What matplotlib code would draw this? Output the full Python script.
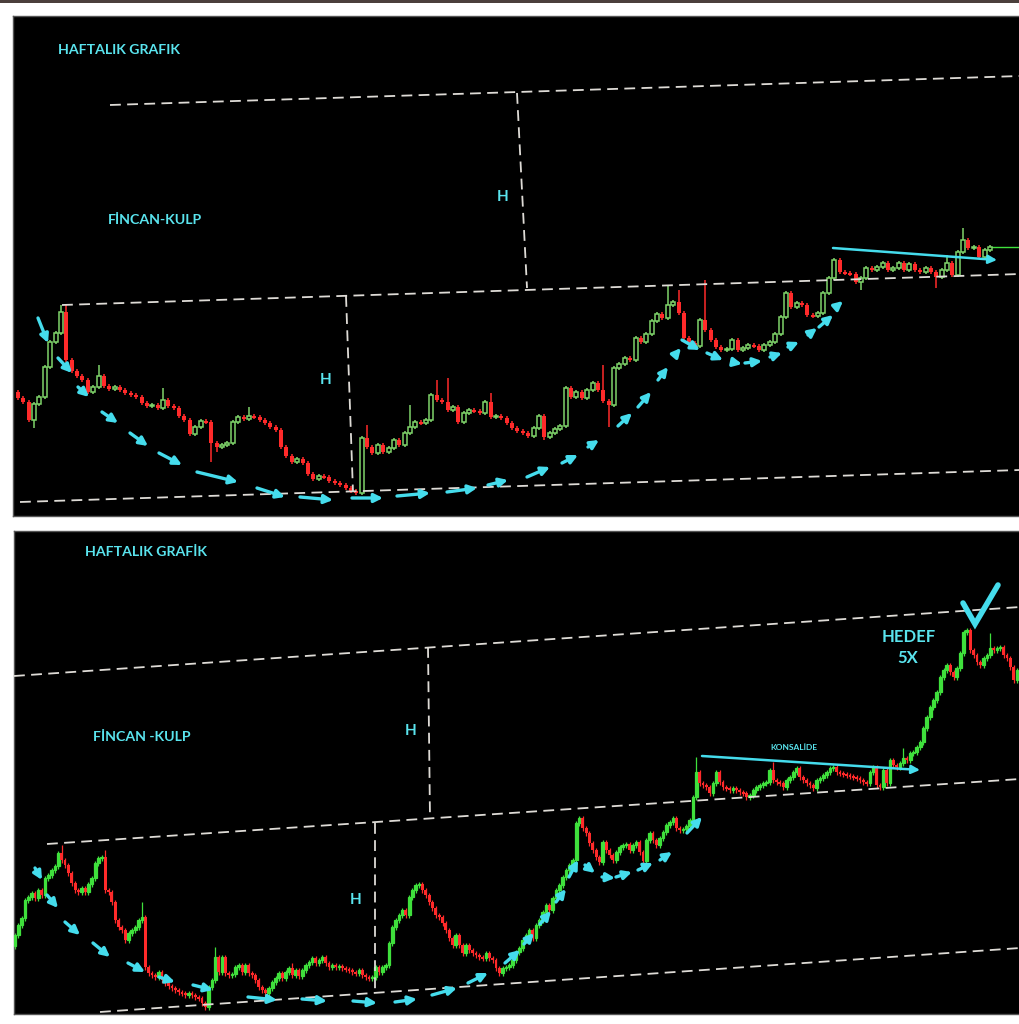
import numpy as np
import matplotlib
matplotlib.use("Agg")
import matplotlib.pyplot as plt
from matplotlib.patches import Rectangle

# ---------------- data ----------------
# levels are chart pixel rows (smaller = higher price); each bar opens at the previous close
top_first_open = 392
top_close = [398, 402, 420, 404, 397, 367, 342, 333, 312, 360,
             371, 376, 380, 392, 387, 376, 386, 389, 387, 390,
             393, 395, 397, 403, 406, 405, 408, 400, 406, 408,
             416, 420, 434, 427, 421, 422, 443, 447, 445, 443,
             422, 417, 419, 416, 417, 420, 423, 427, 430, 447,
             456, 462, 459, 463, 474, 479, 476, 477, 481, 483,
             485, 488, 491, 493, 438, 447, 453, 445, 452, 448,
             440, 445, 433, 427, 422, 423, 420, 395, 400, 402,
             410, 407, 422, 413, 410, 411, 413, 402, 417, 416,
             418, 423, 428, 431, 433, 436, 428, 416, 437, 433,
             429, 426, 388, 397, 392, 398, 390, 383, 390, 401,
             405, 368, 364, 358, 360, 338, 342, 334, 321, 314,
             318, 305, 302, 313, 338, 343, 346, 320, 330, 340,
             347, 350, 349, 340, 350, 348, 345, 346, 350, 345,
             342, 334, 317, 293, 307, 303, 305, 315, 316, 313,
             293, 278, 260, 272, 273, 274, 282, 278, 268, 270,
             267, 263, 270, 268, 263, 270, 264, 270, 272, 268,
             272, 277, 270, 263, 275, 252, 240, 248, 247, 257,
             250, 247]
top_high_idx = [8, 9, 15, 27, 43, 65, 73, 78, 80, 88, 109, 121, 123, 128, 173, 176]
top_high = [305, 305, 365, 388, 407, 425, 405, 380, 378, 393, 365, 285, 290, 280, 255, 228]
top_low_idx = [3, 36, 37, 64, 98, 110, 157, 171]
top_low = [428, 462, 452, 495, 440, 427, 290, 288]

bot_first_open = 946
bot_close = [935, 925, 918, 900, 897, 893, 898, 890, 895, 878,
             875, 870, 866, 853, 860, 865, 873, 883, 890, 892,
             888, 892, 884, 878, 863, 858, 857, 890, 892, 902,
             920, 927, 930, 940, 933, 930, 927, 920, 917, 967,
             973, 975, 977, 972, 980, 983, 986, 988, 990, 992,
             993, 995, 993, 995, 997, 998, 1003, 1007, 987, 980,
             957, 972, 957, 973, 975, 974, 967, 965, 972, 965,
             973, 975, 980, 987, 990, 993, 988, 982, 978, 973,
             978, 972, 968, 975, 970, 976, 970, 965, 962, 958,
             963, 960, 957, 963, 967, 965, 967, 966, 968, 969,
             970, 972, 973, 970, 975, 977, 978, 977, 967, 972,
             967, 965, 943, 927, 920, 915, 910, 915, 897, 890,
             885, 884, 890, 895, 902, 908, 915, 917, 923, 930,
             938, 945, 935, 945, 953, 945, 950, 953, 955, 957,
             958, 953, 958, 960, 968, 973, 968, 967, 965, 960,
             952, 948, 940, 935, 930, 938, 925, 920, 912, 905,
             910, 898, 890, 885,
             877, 870, 865, 860, 823, 818, 828, 833, 843, 850,
             857, 862, 842, 850, 855, 860, 852, 847, 845, 844,
             850, 845, 842, 852, 861, 840, 833, 840, 845, 838,
             832, 825, 822, 818, 828, 830, 829, 826, 820, 797,
             772, 783, 785, 787, 793, 783, 772, 782, 787, 788,
             790, 788, 790, 792, 793, 797, 795, 790, 787, 785,
             783, 782, 770, 780, 782, 783, 787, 780, 777, 772,
             768, 777, 780, 783, 785, 788, 780, 778, 775, 772,
             768, 767, 772, 773, 774, 775, 776, 777, 778, 780,
             782, 783, 772, 767, 785, 787, 770, 783, 760, 765,
             767, 763, 758, 760, 753, 752, 747, 742, 728, 717,
             707, 700, 692, 677, 670, 665, 672, 677, 668, 653,
             632, 630, 650, 655, 662, 665, 658, 655, 648, 650,
             648, 647, 655, 658, 667, 680, 670]
bot_high_idx = [14, 27, 38, 60, 83, 93, 204, 227, 266, 285, 292]
bot_high = [845, 850, 902, 947, 963, 955, 757, 762, 748, 628, 633]
bot_low_idx = [57]
bot_low = [1010]

# dashed channel lines and "H" height markers (chart pixel coords)
top_dashes = [((110, 105), (1020, 76)), ((62, 305), (1020, 274)), ((20, 502), (1020, 470)),
              ((517, 93), (527, 288)), ((346, 296), (353, 492))]
bot_dashes = [((14, 676), (1020, 607)), ((47, 844), (1020, 779)), ((100, 1012), (1020, 948)),
              ((428, 647), (430, 818)), ((375, 823), (375, 990))]

# cup and handle arrows
top_arrows = [((38, 318), (48, 343)), ((58, 358), (72, 373)), ((78, 387), (89, 397)),
              ((102, 412), (118, 423)), ((130, 433), (148, 446)), ((159, 453), (182, 465)),
              ((197, 472), (238, 482)), ((257, 488), (285, 497)), ((300, 497), (333, 500)),
              ((352, 498), (383, 498)), ((397, 496), (430, 493)), ((447, 492), (477, 488)),
              ((488, 485), (508, 480)), ((527, 477), (550, 467)), ((562, 463), (578, 455)),
              ((588, 447), (599, 440)), ((618, 426), (632, 413)), ((638, 407), (651, 392)),
              ((658, 380), (668, 367)), ((675, 355), (681, 348)),
              ((682, 340), (700, 350)), ((707, 353), (723, 360)), ((732, 362), (742, 364)),
              ((745, 363), (762, 361)), ((770, 357), (782, 353)), ((788, 347), (799, 342)),
              ((808, 335), (817, 328)), ((819, 327), (833, 315)), ((836, 307), (843, 301))]
bot_arrows = [((35, 868), (42, 880)), ((47, 895), (58, 908)), ((65, 922), (80, 935)),
              ((93, 943), (110, 957)), ((128, 963), (145, 972)), ((159, 977), (175, 982)),
              ((193, 985), (213, 990)), ((248, 997), (277, 1000)), ((302, 999), (327, 1001)),
              ((353, 1001), (377, 1003)), ((395, 1002), (417, 999)), ((432, 995), (457, 988)),
              ((468, 983), (488, 973)), ((505, 963), (520, 950)), ((524, 944), (534, 933)),
              ((540, 924), (551, 911)), ((556, 902), (566, 889)), ((569, 877), (578, 860)),
              ((585, 865), (595, 873)), ((602, 877), (615, 878)), ((616, 877), (632, 872)),
              ((638, 870), (653, 863)), ((660, 860), (672, 852)), ((687, 833), (702, 817))]

top_trend = ((833, 248), (997, 260))
bot_trend = ((702, 756), (920, 770))
check_mark = ([963, 975, 998], [603, 624, 585])

# ---------------- drawing ----------------
W, H = 1020, 1024
CYAN = '#45dcec'
TXT = '#5ae4ee'
RED = '#ff2a2a'
GREEN = '#3fe03c'
HOLLOW = '#7fd46a'
DASH = '#dedbd6'
FONT = ['Lato', 'DejaVu Sans']

fig = plt.figure(figsize=(W / 100, H / 100), dpi=100, facecolor='white')
fig.add_artist(Rectangle((0, 1 - 3 / H), 1, 3 / H, transform=fig.transFigure,
                         color='#4b3f3c', lw=0))

ax1 = fig.add_axes([13 / W, 1 - 516 / H, (W - 13) / W, 500 / H])
ax1.set_xlim(13, 1020)
ax1.set_ylim(516, 16)
ax2 = fig.add_axes([14 / W, 1 - 1014 / H, (W - 14) / W, 483 / H])
ax2.set_xlim(14, 1020)
ax2.set_ylim(1014, 531)
for ax in (ax1, ax2):
    ax.set_facecolor('black')
    ax.set_xticks([])
    ax.set_yticks([])
    for s in ax.spines.values():
        s.set_color('#555555')
        s.set_linewidth(1)


def draw_candles(ax, x0, dx, first_open, close, hi_idx, hi, lo_idx, lo,
                 width, wick, lw, up_face, up_edge):
    c = np.array(close, float)
    o = np.r_[first_open, c[:-1]]
    x = x0 + dx * np.arange(len(c))
    top = np.minimum(o, c) - wick
    bot = np.maximum(o, c) + wick
    top[hi_idx] = hi
    bot[lo_idx] = lo
    up = c < o
    ax.vlines(x[up], top[up], bot[up], color=up_edge, lw=lw, zorder=2)
    ax.vlines(x[~up], top[~up], bot[~up], color=RED, lw=lw, zorder=2)
    h = c - o
    h = np.where(np.abs(h) < 1.5, np.where(up, -1.5, 1.5), h)
    ax.bar(x[up], h[up], bottom=o[up], width=width, facecolor=up_face,
           edgecolor=up_edge, lw=lw, zorder=3)
    ax.bar(x[~up], h[~up], bottom=o[~up], width=width, color=RED, lw=0, zorder=3)
    return x, c


def dashes(ax, segs):
    for (xa, ya), (xb, yb) in segs:
        ax.plot([xa, xb], [ya, yb], color=DASH, lw=1.3, ls=(0, (6, 3.5)), zorder=4)


def arrows(ax, segs, lw=2.4):
    for a, b in segs:
        ax.annotate('', xy=b, xytext=a,
                    arrowprops=dict(arrowstyle='-|>,head_length=0.5,head_width=0.25',
                                    color=CYAN, lw=lw, shrinkA=0, shrinkB=0), zorder=5)


def label(ax, x, y, s, size, ha='left'):
    ax.text(x, y, s, color=TXT, fontsize=size, fontweight='bold', family=FONT,
            ha=ha, va='center', zorder=6)


# top panel
xs, cs = draw_candles(ax1, 18, 5.37, top_first_open, top_close, top_high_idx, top_high,
                      top_low_idx, top_low, 4.0, 2, 1.1, 'black', HOLLOW)
ax1.hlines(cs[-1], xs[-1], 1020, color=GREEN, lw=1, zorder=2)
dashes(ax1, top_dashes)
arrows(ax1, top_arrows)
arrows(ax1, [top_trend], lw=1.8)
label(ax1, 58, 50, 'HAFTALIK GRAFIK', 10.2)
label(ax1, 108, 220, 'FİNCAN-KULP', 10.2)
label(ax1, 503, 197, 'H', 11, 'center')
label(ax1, 326, 380, 'H', 11, 'center')

# bottom panel
draw_candles(ax2, 15, 3.34, bot_first_open, bot_close, bot_high_idx, bot_high,
             bot_low_idx, bot_low, 2.8, 2.5, 0.9, GREEN, GREEN)
dashes(ax2, bot_dashes)
arrows(ax2, bot_arrows)
arrows(ax2, [bot_trend], lw=1.8)
ax2.plot(check_mark[0], check_mark[1], color=CYAN, lw=4, solid_capstyle='round',
         solid_joinstyle='miter', zorder=6)
label(ax2, 85, 552, 'HAFTALIK GRAFİK', 10.2)
label(ax2, 93, 737, 'FİNCAN -KULP', 10.2)
label(ax2, 411, 731, 'H', 11, 'center')
label(ax2, 356, 900, 'H', 11, 'center')
label(ax2, 909, 637, 'HEDEF', 12, 'center')
label(ax2, 908, 658, '5X', 12, 'center')
label(ax2, 794, 748, 'KONSALİDE', 6, 'center')

fig.savefig('out.png', dpi=100, facecolor='white')
